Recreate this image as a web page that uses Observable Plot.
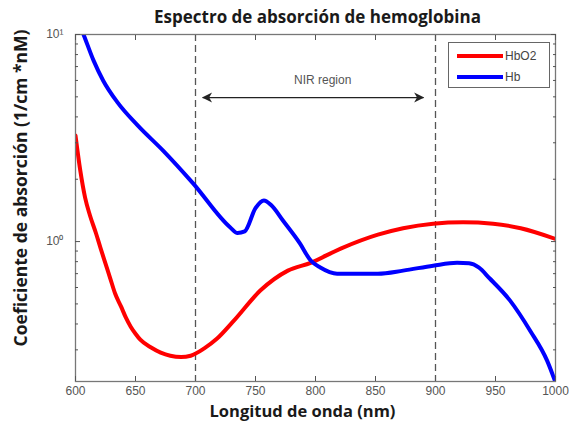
<!DOCTYPE html>
<html>
<head>
<meta charset="utf-8">
<script src="https://cdn.jsdelivr.net/npm/d3@7"></script>
<script src="https://cdn.jsdelivr.net/npm/@observablehq/plot@0.6"></script>
<style>
  html, body { margin: 0; padding: 0; background: #fff; }
  #wrap { position: relative; width: 569px; height: 423px; }
  #legend { position: absolute; left: 448px; top: 42px; width: 102px; height: 46px;
    border: 1.3px solid #666; background: #fff; font-family: "Liberation Sans", Arial, sans-serif;
    font-size: 12px; color: #444; box-sizing: border-box; }
  .lg { position: absolute; left: 8px; width: 46px; height: 4px; }
  .lt { position: absolute; left: 56px; line-height: 14px; }
</style>
</head>
<body>
<div id="wrap"></div>
<script>
// Data
const title = "Espectro de absorción de hemoglobina";
const xLabel = "Longitud de onda (nm)";
const yLabel = "Coeficiente de absorción (1/cm *nM)";
const seriesNames = ["HbO2", "Hb"];
const seriesColors = ["#ff0000", "#0000ff"];

const hbWavelength = [600, 607, 615, 623, 635, 652, 673, 698, 729, 735, 741, 750, 757, 763, 773, 787, 796, 804, 818, 835, 852, 873, 898, 918, 928, 936, 945, 962, 979, 993, 1000];
const hbAbs =        [12.5, 9.9, 7.5, 6.0, 4.7, 3.63, 2.75, 1.91, 1.17, 1.10, 1.12, 1.45, 1.58, 1.50, 1.26, 0.98, 0.81, 0.75, 0.70, 0.70, 0.70, 0.724, 0.765, 0.79, 0.785, 0.75, 0.665, 0.52, 0.37, 0.266, 0.209];

const hbo2Wavelength = [600, 604, 608, 612, 617, 621, 625, 629, 633, 638, 642, 646, 650, 654, 663, 671, 679, 688, 696, 707, 718, 732, 754, 777, 796, 821, 852, 873, 898, 923, 948, 971, 1000];
const hbo2Abs =        [3.25, 2.2, 1.63, 1.34, 1.1, 0.925, 0.783, 0.663, 0.561, 0.485, 0.429, 0.388, 0.359, 0.336, 0.308, 0.291, 0.281, 0.277, 0.281, 0.304, 0.34, 0.415, 0.58, 0.724, 0.79, 0.925, 1.08, 1.16, 1.22, 1.24, 1.22, 1.16, 1.03];

const xTicks = [600, 650, 700, 750, 800, 850, 900, 950, 1000];
const yMajorTicks = [1, 10];
const yMinorTicks = [0.3, 0.4, 0.5, 0.6, 0.7, 0.8, 0.9, 2, 3, 4, 5, 6, 7, 8, 9];
const nirBounds = [700, 900];
const nirArrow = [{x1: 706, x2: 890, y: 4.96}];
const nirLabel = [{x: 806, y: 6.0, text: "NIR region"}];

const hb = hbWavelength.map((w, i) => ({w, v: hbAbs[i]}));
const hbo2 = hbo2Wavelength.map((w, i) => ({w, v: hbo2Abs[i]}));
const sup = {0: "⁰", 1: "¹"};
const boldFont = "'Open Sans', Lato, sans-serif";

const chart = Plot.plot({
  width: 569, height: 423,
  marginLeft: 75, marginRight: 14, marginTop: 34, marginBottom: 42,
  x: {domain: [600, 1000]},
  y: {type: "log", domain: [0.211, 10]},
  style: {fontFamily: "'Liberation Sans', Arial, sans-serif", fontSize: "12px", color: "#555", background: "white"},
  marks: [
    Plot.ruleX(nirBounds, {stroke: "#555", strokeWidth: 1.3, strokeDasharray: "7,4"}),
    Plot.line(hbo2, {x: "w", y: "v", stroke: seriesColors[0], strokeWidth: 4, curve: "monotone-x", clip: true}),
    Plot.line(hb, {x: "w", y: "v", stroke: seriesColors[1], strokeWidth: 4, curve: "monotone-x", clip: true}),
    Plot.frame({stroke: "#777", strokeWidth: 1.3}),
    Plot.axisX({ticks: xTicks, tickSize: 0, tickPadding: 5, label: null, tickFormat: d => String(d)}),
    Plot.axisX({ticks: xTicks, tickSize: -5, tickFormat: () => "", label: null}),
    Plot.axisX({anchor: "top", ticks: xTicks, tickSize: -5, tickFormat: () => "", label: null}),
    Plot.axisY({ticks: yMajorTicks, tickSize: 0, tickPadding: 12, label: null,
      tickFormat: d => "10" + sup[Math.round(Math.log10(d))]}),
    Plot.axisY({ticks: yMajorTicks, tickSize: -5, tickFormat: () => "", label: null}),
    Plot.axisY({ticks: yMinorTicks, tickSize: -3, tickFormat: () => "", label: null}),
    Plot.axisY({anchor: "right", ticks: yMajorTicks, tickSize: -5, tickFormat: () => "", label: null}),
    Plot.axisY({anchor: "right", ticks: yMinorTicks, tickSize: -3, tickFormat: () => "", label: null}),
    Plot.link(nirArrow, {x1: "x1", x2: "x2", y1: "y", y2: "y", stroke: "#222", strokeWidth: 1.2,
      markerStart: "arrow", markerEnd: "arrow"}),
    Plot.text(nirLabel, {x: "x", y: "y", text: "text", fill: "#555", fontSize: 12}),
    Plot.text([title], {frameAnchor: "top", lineAnchor: "middle", dy: -17, dx: 2, fontWeight: "bold", fontSize: 17,
      fontFamily: boldFont, fill: "#1a1a1a"}),
    Plot.text([xLabel], {frameAnchor: "bottom", lineAnchor: "middle", dy: 30, dx: -13, fontWeight: "bold", fontSize: 16.5,
      fontFamily: boldFont, fill: "#1a1a1a"}),
    Plot.text([yLabel], {frameAnchor: "left", textAnchor: "middle", lineAnchor: "middle", dx: -54, dy: -20, rotate: -90,
      fontWeight: "bold", fontSize: 17.5, fontFamily: boldFont, fill: "#1a1a1a"})
  ]
});

// Filled, barbed arrowheads like the reference, pointing outward at both ends
chart.querySelectorAll("marker").forEach(m => {
  m.setAttribute("markerWidth", "12");
  m.setAttribute("markerHeight", "12");
  m.setAttribute("viewBox", "-7 -5 10 10");
  m.setAttribute("orient", "auto-start-reverse");
  const p = m.querySelector("path");
  if (p) {
    p.setAttribute("d", "M-6.5,-3.5L0.5,0L-6.5,3.5L-4.5,0Z");
    p.setAttribute("fill", "#222");
    p.setAttribute("stroke", "none");
  }
});

const wrap = document.getElementById("wrap");
wrap.appendChild(chart);
const legend = document.createElement("div");
legend.id = "legend";
seriesNames.forEach((name, i) => {
  const top = i === 0 ? 11 : 32;
  const l = document.createElement("div");
  l.className = "lg"; l.style.top = top + "px"; l.style.background = seriesColors[i];
  const t = document.createElement("div");
  t.className = "lt"; t.style.top = (top - 5) + "px"; t.textContent = name;
  legend.appendChild(l); legend.appendChild(t);
});
wrap.appendChild(legend);
</script>
</body>
</html>
